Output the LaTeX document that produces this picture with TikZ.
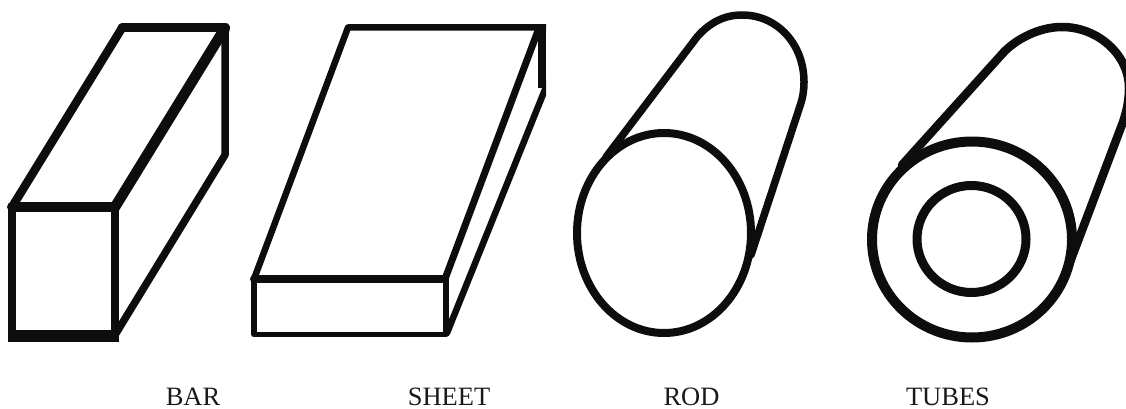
\documentclass[tikz,border=0pt]{standalone}
\usepackage{fontspec}
\setmainfont{Liberation Serif}
\tikzset{
  lbl/.style={anchor=base,inner sep=0pt,font=\fontsize{26.5}{30}\selectfont,text=black!90},
  solidline/.style={draw=black!95,line join=round,line cap=round},
}
\begin{document}
\begin{tikzpicture}[x=1pt,y=-1pt]
\useasboundingbox (0,0) rectangle (1126,409);
% BAR
\draw[solidline,line width=8.5pt] (12,207) -- (122,28);
\draw[solidline,line width=9pt] (122,28) -- (225,28);
\draw[solidline,line width=10pt] (12,207) -- (115,207);
\draw[solidline,line width=10.5pt] (115,207) -- (225,28);
\draw[solidline,line width=7.5pt] (225,28) -- (225,155) -- (115,335);
\draw[solidline,line width=8pt] (12,207) -- (12,336);
\draw[solidline,line width=8pt] (115,207) -- (115,336);
\draw[solidline,line width=12pt,line cap=butt] (8,336) -- (119,336);
% SHEET
\begin{scope}
\clip (240,0) rectangle (546,409);
\draw[solidline,line width=6.5pt] (254,279) -- (348,27.5) -- (550,27.5);
\draw[solidline,line width=7pt] (445,279) -- (539,28);
\fill[black!95] (538,27) -- (546,27) -- (546,88) -- (538,88) -- cycle;
\draw[solidline,line width=6.5pt] (447,333) -- (548,82);
\end{scope}
\draw[solidline,line width=8pt] (254,279) -- (445,279);
\draw[solidline,line width=5.5pt] (254,279) -- (254,334.5) -- (446,334.5) -- (446,279);
% ROD
\draw[solidline,line width=8pt] (664,233) ellipse [x radius=87,y radius=100];
\draw[solidline,line width=7.5pt] (606,157) -- (697,37) .. controls (710,22) and (725,15) .. (742,15) .. controls (778,15) and (804,45) .. (804,82) .. controls (804,90) and (803,97) .. (800,106) -- (751,255);
% TUBES
\draw[solidline,line width=10pt] (972,239.5) ellipse [x radius=100,y radius=98];
\draw[solidline,line width=9pt] (971.5,239) ellipse [x radius=54.5,y radius=53.5];
\draw[solidline,line width=8.5pt] (902,165) -- (1003,53) .. controls (1015,40) and (1038,27) .. (1062,27) .. controls (1098,27) and (1129,55) .. (1129,88) .. controls (1129,100) and (1127,110) .. (1123,122) -- (1070,262);
% labels
\node[lbl] (bar) at (193,405.5) {BAR};
\node[lbl] (sheet) at (449,405.5) {SHEET};
\node[lbl] (rod) at (691.5,405.5) {ROD};
\node[lbl] (tubes) at (948,405.5) {TUBES};
\end{tikzpicture}
\end{document}
